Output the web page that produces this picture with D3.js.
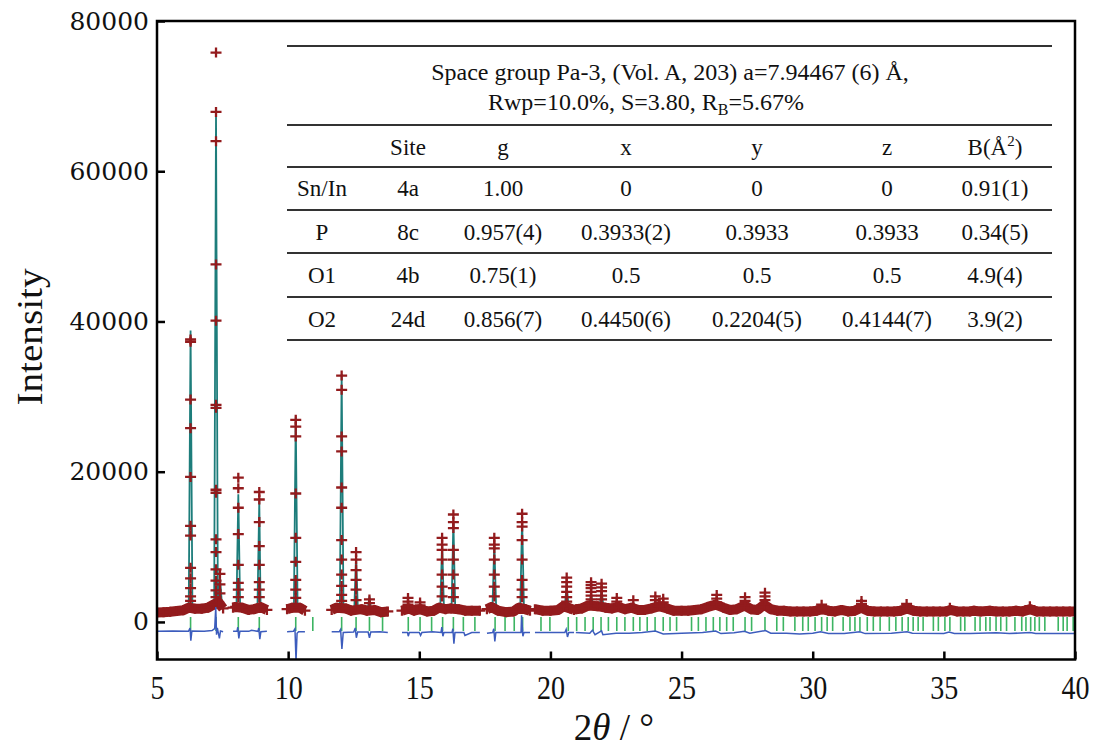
<!DOCTYPE html>
<html>
<head>
<meta charset="utf-8">
<script src="https://cdn.jsdelivr.net/npm/d3@7/dist/d3.min.js"></script>
<style>
  body { margin: 0; background: #fff; }
  svg { display: block; }
</style>
</head>
<body>
<svg id="chart" width="1099" height="754"></svg>
<script>
// axis ticks
var xTicks = [5, 10, 15, 20, 25, 30, 35, 40];
var yTicks = [0, 20000, 40000, 60000, 80000];

// measured 2theta ranges (excluded regions are the gaps between them)
var scanRanges = [[5, 7.52], [7.9, 9.19], [9.96, 10.64], [11.66, 13.8],
  [14.34, 17.31], [17.58, 19.22], [19.41, 20.9], [20.97, 40]];

// observed background, [2theta, intensity]
var bgObs = [
  [5.0,1250],[5.25,1300],[5.5,1350],[5.75,1450],[6.0,1550],[6.2,1900],[6.45,1750],[6.7,1750],[6.95,1900],[7.15,2300],[7.35,2600],[7.52,1800],
  [7.9,1900],[8.0,2000],[8.25,1900],[8.5,1600],[8.7,1700],[8.95,2000],[9.19,1600],
  [9.96,1700],[10.15,1900],[10.45,1900],[10.64,1500],
  [11.66,1600],[11.85,1900],[12.2,1800],[12.4,1500],[12.8,1700],[13.0,1500],[13.3,1600],[13.55,1300],[13.8,1400],
  [14.34,1500],[14.6,1800],[14.8,1500],[15.05,1700],[15.3,1400],[15.55,1500],[15.75,1900],[16.0,1700],[16.2,1800],[16.5,1700],[16.75,1500],[17.0,1500],[17.31,1500],
  [17.58,1700],[17.75,2000],[18.0,1500],[18.3,1300],[18.6,1400],[18.8,1900],[19.05,1700],[19.22,1500],
  [19.41,1700],[19.7,1500],[20.0,1500],[20.3,1600],[20.5,2100],[20.75,1800],[20.9,1600],
  [20.97,1700],[21.2,1800],[21.45,2200],[21.8,2100],[22.1,1900],[22.35,1800],[22.6,2000],[22.85,1700],[23.1,1900],[23.35,1600],
  [23.6,1600],[23.85,1800],[24.15,2100],[24.45,1800],[24.7,1500],[25.0,1500],[25.25,1500],[25.5,1600],[25.75,1700],[26.0,2000],
  [26.3,2300],[26.6,1900],[26.85,1600],[27.1,1700],[27.4,2200],[27.65,1700],[27.9,1600],[28.15,2300],[28.4,1700],[28.65,1500],
  [28.9,1500],[29.15,1400],[29.4,1400],[29.65,1400],[29.9,1400],[30.15,1500],[30.35,1700],[30.6,1500],[30.85,1400],[31.1,1600],
  [31.35,1400],[31.6,1500],[31.85,1900],[32.1,1500],[32.35,1400],[32.6,1400],[32.85,1400],[33.1,1400],[33.35,1500],[33.6,1800],
  [33.85,1500],[34.1,1400],[34.35,1400],[34.6,1400],[34.85,1400],[35.1,1400],[35.25,1600],[35.5,1400],[35.75,1400],[36.0,1400],
  [36.15,1500],[36.4,1400],[36.75,1500],[37.0,1400],[37.25,1400],[37.5,1400],[37.75,1500],[38.0,1400],[38.3,1700],[38.55,1400],
  [38.8,1400],[39.05,1400],[39.3,1400],[39.55,1400],[39.8,1400],[40.0,1400]
];

// reflections: position, calculated top, observed points on the peak
var peakPos  = [6.28, 7.25, 7.4, 8.10, 8.90, 10.29, 12.04, 12.59, 13.10, 14.57, 15.03, 15.87, 16.30, 17.86, 18.92,
  20.62, 21.55, 21.95, 22.53, 23.16, 24.0, 24.3, 26.34, 27.42, 28.18, 30.34, 31.86, 33.58, 35.23, 38.28];
var peakCalc = [38800, 68000, 6000, 17000, 16200, 27300, 33000, 8800, 3400, 2400, 2500, 10500, 13500, 10500, 13800,
  5000, 3800, 4200, 2800, 2600, 2900, 2700, 3000, 2800, 3400, 2000, 2400, 2000, 1700, 1800];
var peakObs = [
  [37600, 37300, 29600, 25800, 19300, 12800, 11500, 7200, 5800, 4500, 3400, 2800],
  [75800, 67900, 64000, 47600, 40100, 28900, 28500, 17600, 17200, 11000, 9300, 7000, 5500, 4200, 3300],
  [6400, 5000, 3800],
  [19200, 17800, 15200, 11700, 7600, 5200, 4300, 3300],
  [17300, 16300, 13300, 10100, 7600, 5300, 4300, 3300],
  [26900, 26000, 24700, 17100, 11200, 8000, 5600, 4300, 3200],
  [32800, 30900, 24700, 22700, 17900, 15200, 10900, 8300, 6300, 4800, 3600, 2800],
  [9300, 8300, 6900, 5600, 4300, 2900],
  [3000, 2500],
  [3200, 2700, 2300],
  [2600, 2200],
  [11200, 10300, 9600, 8300, 6300, 4700, 3400],
  [14300, 13300, 12500, 9600, 8300, 6300, 4500, 3300],
  [11200, 10300, 9800, 8300, 6300, 4700, 3400],
  [14400, 13300, 12700, 10900, 8300, 5600, 4300, 3300],
  [5900, 5300, 4700, 4000, 3300, 2700],
  [5300, 4900, 4500, 4000, 3500, 3000],
  [5100, 4600, 4100, 3500, 3000],
  [3200, 2700],
  [2900],
  [3400, 2900],
  [3100, 2600],
  [3600, 3100, 2600],
  [3300, 2800],
  [3900, 3400, 2900],
  [2300],
  [2800, 2400],
  [2400],
  [1900],
  [2100]
];

// difference curve, [2theta, obs - calc]
var diffPts = [
  [5,-1250],[5.6,-1200],[6.2,-1250],[6.26,-800],[6.29,-2500],[6.33,-1200],[6.8,-1250],[7.1,-1150],[7.2,-900],[7.24,2000],[7.27,-1700],[7.3,-800],[7.38,-2200],[7.42,-1200],[7.52,-1300],
  [7.9,-1250],[8.05,-1250],[8.08,-700],[8.12,-2200],[8.16,-1250],[8.5,-1250],[8.6,-1100],[8.85,-1250],[8.88,-800],[8.92,-2300],[8.96,-1300],[9.19,-1250],
  [9.96,-1300],[10.2,-1250],[10.26,-900],[10.3,-5200],[10.34,-1500],[10.4,-1300],[10.64,-1300],
  [11.66,-1300],[11.95,-1300],[12.0,-1000],[12.05,-3600],[12.1,-1400],[12.5,-1350],[12.56,-800],[12.6,-2100],[12.65,-1350],[13.05,-1350],[13.1,-2100],[13.15,-1350],[13.5,-1300],[13.8,-1400],
  [14.34,-1400],[14.55,-1400],[14.58,-1900],[14.62,-1400],[15.0,-1400],[15.05,-1800],[15.1,-1400],[15.5,-1300],[15.83,-1400],[15.86,-700],[15.9,-1900],[15.94,-1400],
  [16.25,-1400],[16.28,-900],[16.32,-2900],[16.36,-1400],[16.7,-1400],[16.74,-1800],[17.0,-1400],[17.31,-1400],
  [17.58,-1500],[17.8,-1400],[17.84,-900],[17.88,-2600],[17.92,-1400],[18.5,-1400],[18.88,-1400],[18.9,900],[18.95,-1900],[18.99,-1400],[19.22,-1400],
  [19.41,-1400],[20.0,-1400],[20.55,-1400],[20.6,-1000],[20.65,-2000],[20.7,-1400],[20.9,-1400],
  [20.97,-1400],[21.5,-1500],[21.6,-1100],[21.7,-1700],[21.95,-1200],[22.0,-1700],[22.5,-1500],[23,-1500],[23.5,-1400],[24.0,-1200],
  [24.3,-1600],[25,-1500],[25.8,-1400],[26.3,-1200],[26.5,-1550],[27.0,-1450],[27.4,-1250],[27.6,-1500],[28.2,-1150],[28.4,-1500],
  [29,-1500],[29.5,-1600],[30.0,-1500],[30.3,-1300],[30.6,-1550],[31.2,-1550],[31.8,-1300],[32.0,-1550],[33,-1500],[33.6,-1300],
  [33.8,-1500],[35,-1550],[35.2,-1350],[35.4,-1550],[36,-1550],[37,-1450],[37.5,-1550],[38.3,-1400],[38.5,-1550],[40,-1550]
];

// Bragg reflection markers
var braggPos = [6.28, 7.25, 8.10, 8.90, 10.29, 10.94, 12.04, 12.59, 13.10, 13.6, 14.58, 15.03, 15.47, 15.89, 16.30, 16.68,
  17.12, 17.89, 18.27, 18.62, 18.94, 19.64, 19.98, 20.68, 21.0, 21.32, 21.63, 21.93, 22.21, 22.53, 22.84, 23.16, 23.41,
  23.69, 23.99, 24.30, 24.56, 24.81, 25.38, 25.64, 25.93, 26.21, 26.46, 26.72, 26.97, 27.42, 27.67, 28.18, 28.63, 28.88,
  29.32, 29.62, 29.83, 30.09, 30.34, 30.55, 30.76, 31.16, 31.42, 31.61, 31.80, 32.08, 32.31, 32.57, 32.92, 33.17, 33.41,
  33.64, 33.83, 34.02, 34.21, 34.60, 34.79, 35.04, 35.23, 35.64, 35.80, 36.19, 36.38, 36.60, 36.76, 36.99, 37.17, 37.39,
  37.71, 37.97, 38.13, 38.31, 38.47, 38.64, 38.85, 39.36, 39.55, 39.70, 39.93];

// refinement table
var tableHead = ['', 'Site', 'g', 'x', 'y', 'z', 'B(Å²)'];
var tableRows = [
  ['Sn/In', '4a', '1.00', '0', '0', '0', '0.91(1)'],
  ['P', '8c', '0.957(4)', '0.3933(2)', '0.3933', '0.3933', '0.34(5)'],
  ['O1', '4b', '0.75(1)', '0.5', '0.5', '0.5', '4.9(4)'],
  ['O2', '24d', '0.856(7)', '0.4450(6)', '0.2204(5)', '0.4144(7)', '3.9(2)']
];

var C_OBS = '#931b1d', C_CALC = '#1d7d7b', C_DIFF = '#3c5cbd', C_BRAGG = '#3cb462';

var svg = d3.select('#chart');
var m = {left: 157, right: 1075, top: 21, bottom: 659.5};
var x = d3.scaleLinear().domain([5, 40]).range([m.left, m.right]);
var y = d3.scaleLinear().domain([-5000, 80000]).range([m.bottom, m.top]);

svg.append('defs').append('clipPath').attr('id', 'plotclip')
  .append('rect').attr('x', m.left).attr('y', m.top)
  .attr('width', m.right - m.left).attr('height', m.bottom - m.top);

var plot = svg.append('g').attr('clip-path', 'url(#plotclip)');

function inRange (r) {
  return function (d) { return d[0] >= r[0] && d[0] <= r[1]; };
}
function nearestBg (p) {
  var best = bgObs[0];
  bgObs.forEach(function (d) { if (Math.abs(d[0] - p) < Math.abs(best[0] - p)) best = d; });
  return best[1];
}

var line = d3.line().x(function (d) { return x(d[0]); }).y(function (d) { return y(d[1]); });

// calculated profile
scanRanges.forEach(function (r) {
  var pts = bgObs.filter(inRange(r)).slice();
  peakPos.forEach(function (p, i) {
    if (p < r[0] || p > r[1]) return;
    var foot = nearestBg(p);
    pts.push([p - 0.07, foot], [p, peakCalc[i]], [p + 0.07, foot]);
  });
  pts.sort(function (a, b) { return a[0] - b[0]; });
  plot.append('path').datum(pts).attr('d', line)
    .attr('fill', 'none').attr('stroke', C_CALC).attr('stroke-width', 1.8);
});

// observed background band
scanRanges.forEach(function (r) {
  plot.append('path').datum(bgObs.filter(inRange(r))).attr('d', line)
    .attr('fill', 'none').attr('stroke', C_OBS).attr('stroke-width', 10)
    .attr('stroke-linejoin', 'round');
});

var cross = 'M-5.5,0H5.5M0,-5V5';
var obsPts = bgObs.slice();
peakPos.forEach(function (p, i) {
  peakObs[i].forEach(function (v) { obsPts.push([p, v]); });
});
plot.append('g').selectAll('path').data(obsPts).join('path')
  .attr('d', cross)
  .attr('transform', function (d) { return 'translate(' + x(d[0]) + ',' + y(d[1]) + ')'; })
  .attr('stroke', C_OBS).attr('stroke-width', 2.3).attr('fill', 'none');

// Bragg ticks
plot.append('g').selectAll('line').data(braggPos).join('line')
  .attr('x1', function (d) { return x(d); }).attr('x2', function (d) { return x(d); })
  .attr('y1', y(0) - 5).attr('y2', y(0) + 9)
  .attr('stroke', C_BRAGG).attr('stroke-width', 1.6);

// difference curve
scanRanges.forEach(function (r) {
  plot.append('path').datum(diffPts.filter(inRange(r))).attr('d', line)
    .attr('fill', 'none').attr('stroke', C_DIFF).attr('stroke-width', 1.5);
});

// axes
var xAxis = d3.axisBottom(x).tickValues(xTicks).tickFormat(d3.format('d'))
  .tickSizeInner(-8).tickSizeOuter(0).tickPadding(16);
var gx = svg.append('g').attr('transform', 'translate(0,' + m.bottom + ')').call(xAxis);
gx.select('.domain').remove();
gx.selectAll('line').attr('stroke', '#000').attr('stroke-width', 2.5);
gx.selectAll('text').attr('font-family', '"Liberation Serif", serif').attr('font-size', 33)
  .attr('fill', '#111').attr('transform', 'scale(0.85,1)');

var yAxis = d3.axisLeft(y).tickValues(yTicks).tickFormat(d3.format('d'))
  .tickSizeInner(-8).tickSizeOuter(0).tickPadding(8);
var gy = svg.append('g').attr('transform', 'translate(' + m.left + ',0)').call(yAxis);
gy.select('.domain').remove();
gy.selectAll('line').attr('stroke', '#000').attr('stroke-width', 2.5);
gy.selectAll('text').attr('font-family', '"DejaVu Serif", serif').attr('font-size', 25)
  .attr('fill', '#111');

svg.append('rect').attr('x', m.left).attr('y', m.top)
  .attr('width', m.right - m.left).attr('height', m.bottom - m.top)
  .attr('fill', 'none').attr('stroke', '#000').attr('stroke-width', 2.5);

// axis titles
svg.append('text').attr('transform', 'translate(42,337) rotate(-90) scale(1.12,1)')
  .attr('text-anchor', 'middle').attr('font-family', '"Liberation Serif", serif')
  .attr('font-size', 35).attr('fill', '#111').text('Intensity');

var xt = svg.append('text').attr('x', 614).attr('y', 740).attr('text-anchor', 'middle')
  .attr('font-family', '"Liberation Serif", serif').attr('font-size', 37).attr('fill', '#111');
xt.append('tspan').text('2');
xt.append('tspan').attr('font-style', 'italic').text('θ');
xt.append('tspan').text(' / °');

// table
var tbl = svg.append('g').attr('font-family', '"Liberation Serif", serif')
  .attr('font-size', 23).attr('fill', '#111').attr('text-anchor', 'middle');
var tLeft = 287, tRight = 1052;
var ruleY = [46, 125, 167, 210, 253, 297, 340];
var colX = [322, 408, 503, 626, 757, 887, 995];
var rowY = [155, 196, 240, 283, 327];

tbl.selectAll('line').data(ruleY).join('line')
  .attr('x1', tLeft).attr('x2', tRight)
  .attr('y1', function (d) { return d; }).attr('y2', function (d) { return d; })
  .attr('stroke', '#333').attr('stroke-width', 2);

tbl.append('text').attr('x', 670).attr('y', 80).attr('font-size', 24)
  .text('Space group Pa-3, (Vol. A, 203) a=7.94467 (6) Å,');
var t2 = tbl.append('text').attr('x', 646).attr('y', 110).attr('font-size', 24);
t2.append('tspan').text('Rwp=10.0%, S=3.80, R');
t2.append('tspan').attr('font-size', 16).attr('dy', 5).text('B');
t2.append('tspan').attr('dy', -5).text('=5.67%');

[tableHead].concat(tableRows).forEach(function (row, ri) {
  row.forEach(function (cell, ci) {
    if (!cell) return;
    var t = tbl.append('text').attr('x', colX[ci]).attr('y', rowY[ri]);
    if (cell === 'B(Å²)') {
      t.append('tspan').text('B(Å');
      t.append('tspan').attr('font-size', 15).attr('dy', -9).text('2');
      t.append('tspan').attr('dy', 9).text(')');
    } else {
      t.text(cell);
    }
  });
});
</script>
</body>
</html>
